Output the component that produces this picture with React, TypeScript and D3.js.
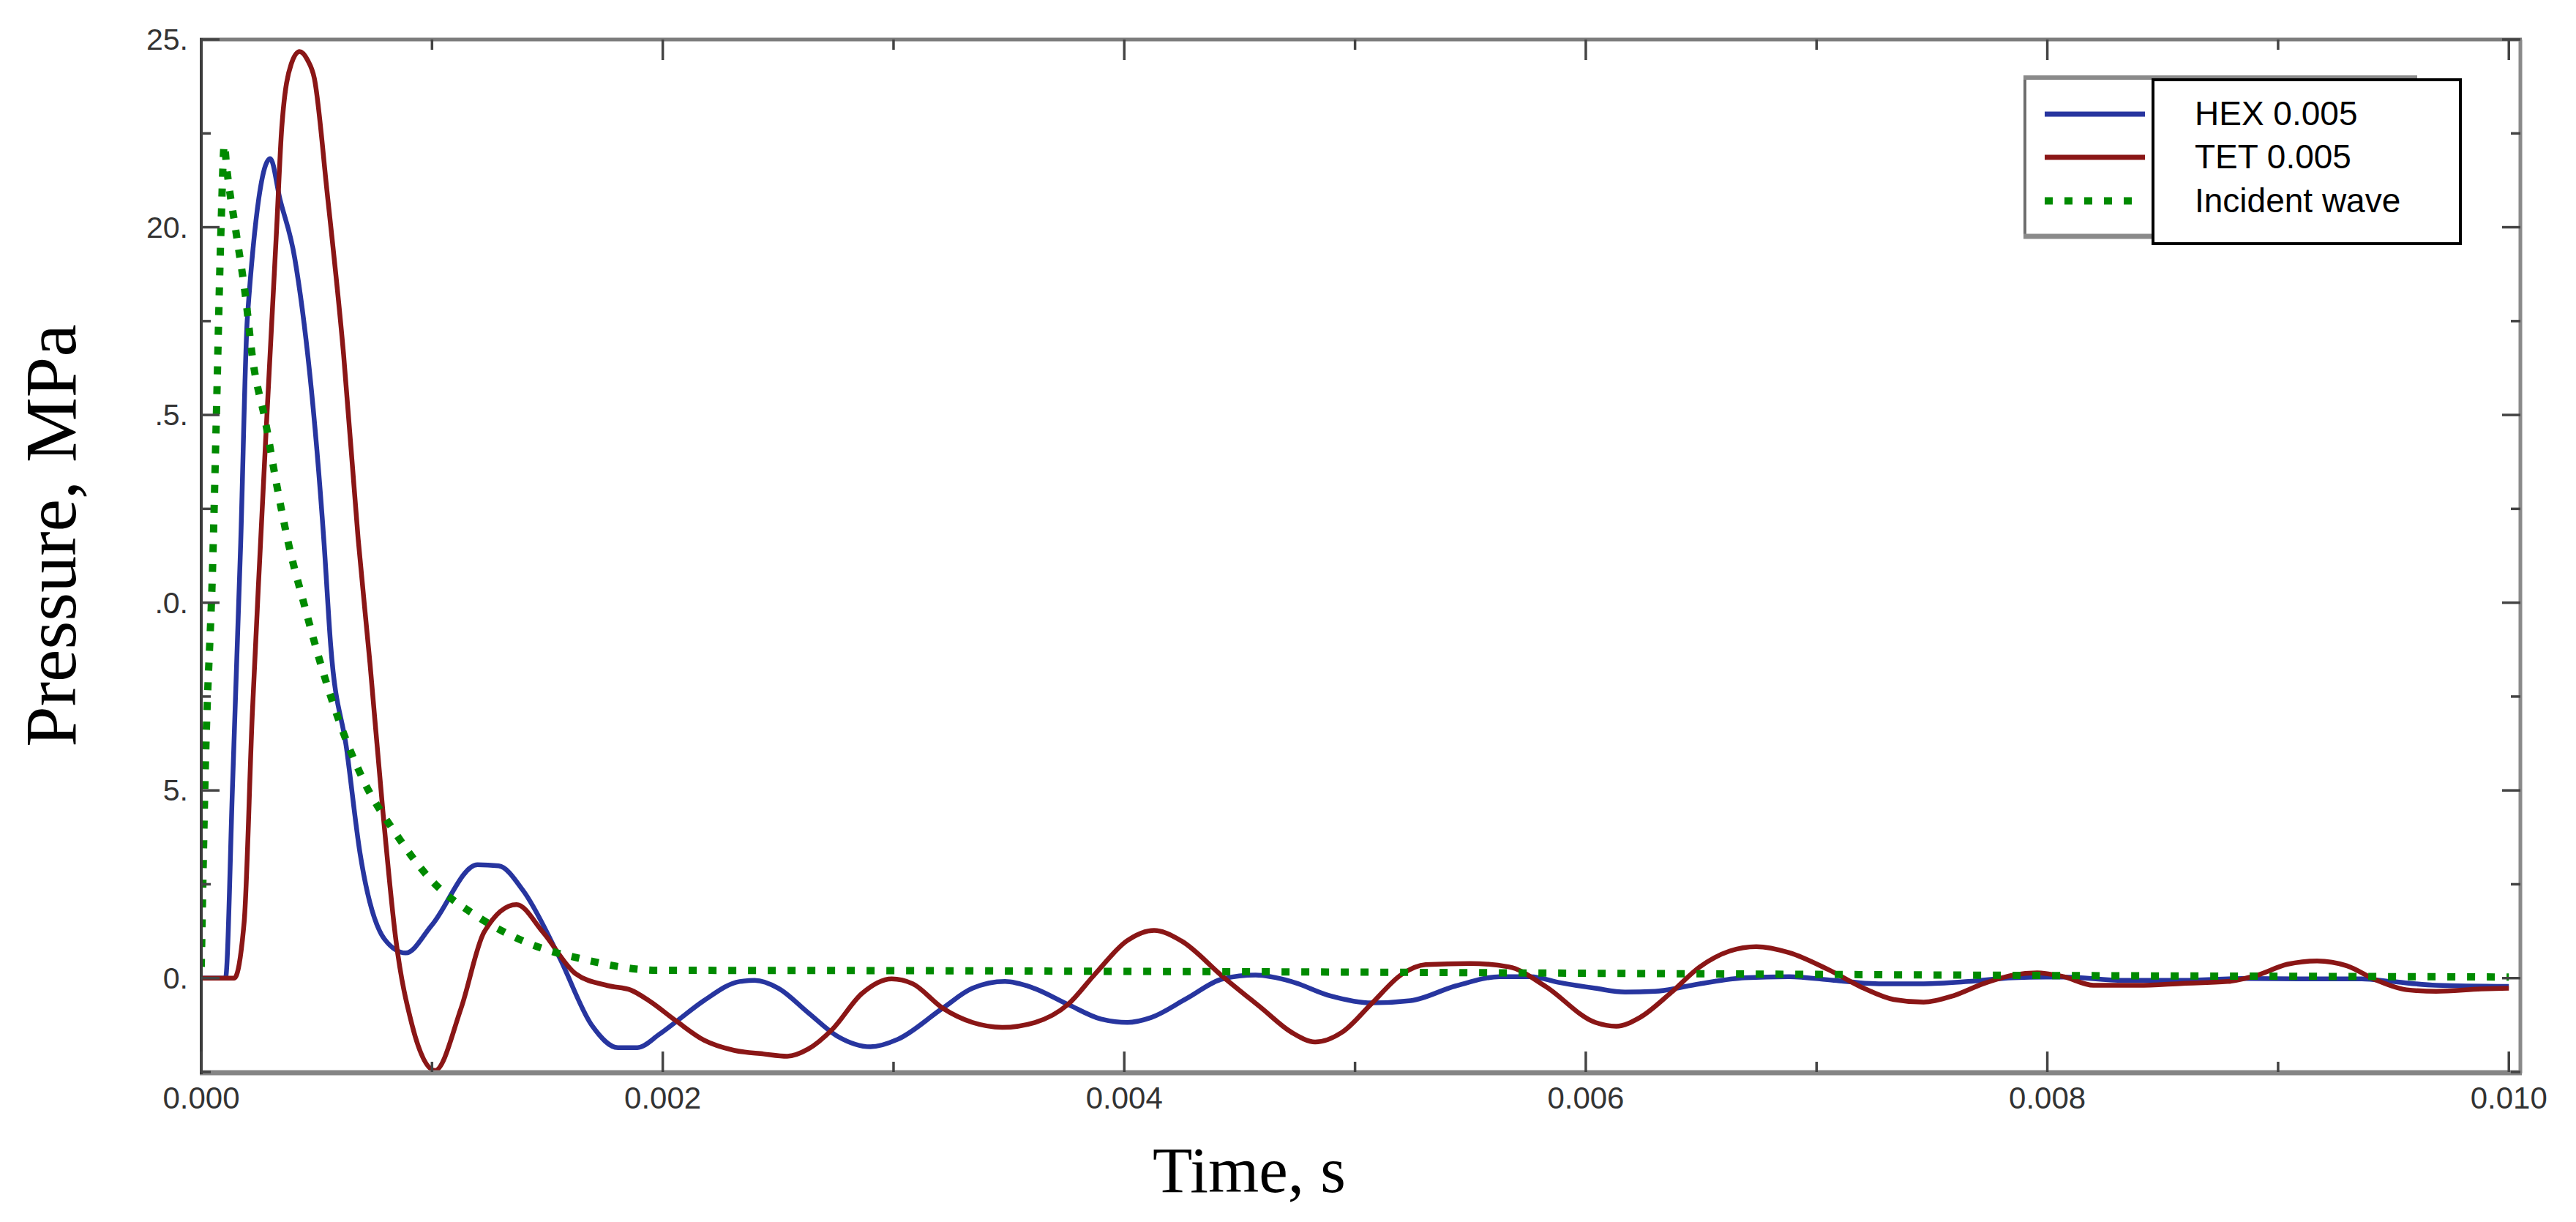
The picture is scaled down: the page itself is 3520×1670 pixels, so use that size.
import { curveMonotoneX, line, scaleLinear, select } from "d3";
import { useEffect, useRef } from "react";

// HEX 0.005 (blue)
const hexTime = [
  0, 0.000105, 0.000136, 0.000171, 0.0002, 0.000299, 0.000341, 0.000405, 0.000532, 0.000561, 0.00063,
  0.000688, 0.000794, 0.000886, 0.000999, 0.001197, 0.001289, 0.001395, 0.00155, 0.001693, 0.001806,
  0.00189, 0.001984, 0.00206, 0.002178, 0.002333, 0.002398, 0.002501, 0.00263, 0.00276, 0.0029, 0.003018,
  0.003213, 0.003342, 0.003483, 0.0036, 0.003756, 0.003899, 0.004013, 0.004116, 0.004271, 0.004427,
  0.004569, 0.004724, 0.004892, 0.005073, 0.005241, 0.005435, 0.005629, 0.005759, 0.005888, 0.006041,
  0.00617, 0.0063, 0.006494, 0.006688, 0.006881, 0.007075, 0.00727, 0.007464, 0.007658, 0.007851, 0.00807,
  0.00833, 0.008587, 0.008846, 0.009105, 0.009363, 0.009492, 0.009686, 0.01,
];
const hexPressure = [
  0, 0, 5.2, 11.6, 17.6, 21.83, 20.75, 19.18, 11.6, 8.86, 6.1, 3.33, 1.04, 0.67, 1.41, 3.02, 2.99, 2.33,
  0.58, -1.26, -1.85, -1.85, -1.5, -1.15, -0.6, -0.09, -0.06, -0.27, -0.92, -1.56, -1.83, -1.63, -0.8,
  -0.27, -0.09, -0.25, -0.7, -1.09, -1.18, -1.05, -0.54, -0.02, 0.08, -0.09, -0.47, -0.66, -0.6, -0.21,
  0.04, 0.04, -0.12, -0.27, -0.37, -0.35, -0.15, 0.01, 0.04, -0.06, -0.15, -0.15, -0.09, 0.01, 0.03,
  -0.06, -0.06, -0.01, -0.02, -0.02, -0.09, -0.19, -0.22,
];

// TET 0.005 (red)
const tetTime = [
  0, 0.000143, 0.000186, 0.000221, 0.000257, 0.000278, 0.000327, 0.000349, 0.00039, 0.000426, 0.000461,
  0.00049, 0.000546, 0.000617, 0.00068, 0.000731, 0.000787, 0.000843, 0.000914, 0.001013, 0.001126,
  0.001226, 0.001366, 0.00148, 0.001622, 0.001762, 0.001862, 0.00194, 0.00206, 0.002178, 0.002307,
  0.002437, 0.002539, 0.00263, 0.002734, 0.002863, 0.002992, 0.003083, 0.003213, 0.003342, 0.003471,
  0.003613, 0.003756, 0.003872, 0.004013, 0.004129, 0.004245, 0.004427, 0.004595, 0.004724, 0.004827,
  0.004944, 0.005073, 0.005202, 0.005306, 0.005499, 0.005667, 0.005823, 0.006041, 0.006132, 0.006234,
  0.006365, 0.006494, 0.006623, 0.006739, 0.006881, 0.00705, 0.007205, 0.007335, 0.007464, 0.007593,
  0.007722, 0.007851, 0.007956, 0.00807, 0.0082, 0.008393, 0.008587, 0.008781, 0.00891, 0.00904,
  0.009169, 0.009298, 0.009428, 0.009557, 0.009686, 0.00988, 0.01,
];
const tetPressure = [
  0, 0, 1.5, 7.0, 11.6, 14.2, 20.0, 22.66, 24.35, 24.68, 24.45, 23.97, 20.9, 16.6, 11.7, 8.4, 4.45, 1.04,
  -1.26, -2.46, -0.8, 1.23, 1.96, 1.23, 0.12, -0.2, -0.32, -0.6, -1.15, -1.65, -1.92, -2.02, -2.08,
  -1.89, -1.37, -0.41, -0.02, -0.15, -0.8, -1.18, -1.31, -1.18, -0.7, 0.1, 1.0, 1.27, 1.0, 0.04, -0.8,
  -1.44, -1.7, -1.44, -0.67, 0.1, 0.36, 0.39, 0.3, -0.21, -1.18, -1.28, -1.05, -0.41, 0.3, 0.72, 0.84,
  0.68, 0.23, -0.27, -0.57, -0.64, -0.47, -0.15, 0.08, 0.14, 0.04, -0.19, -0.19, -0.14, -0.09, 0.08,
  0.37, 0.46, 0.33, -0.06, -0.31, -0.35, -0.29, -0.27,
];

// Incident wave (green dotted)
const incidentTime = [
  0, 0.000016, 0.000051, 0.000065, 0.000086, 0.0001, 0.00011, 0.00015, 0.000193, 0.000221, 0.000278,
  0.000326, 0.000377, 0.000447, 0.000518, 0.000603, 0.000702, 0.000843, 0.000998, 0.001197, 0.00141,
  0.001664, 0.001975, 0.003, 0.004, 0.005, 0.006, 0.007, 0.008, 0.009, 0.01,
];
const incidentPressure = [
  0.3, 5.2, 11.35, 14.83, 20.05, 22.2, 21.6, 19.9, 18.1, 16.57, 14.83, 13.17, 11.6, 9.93, 8.36, 6.75,
  5.28, 3.85, 2.6, 1.64, 0.95, 0.49, 0.21, 0.2, 0.18, 0.16, 0.13, 0.1, 0.07, 0.05, 0.03,
];

const xDomain = [0, 0.01005];
const yDomain = [-2.5, 25];
const xTickValues = [0, 0.002, 0.004, 0.006, 0.008, 0.01];
const xTickLabels = ["0.000", "0.002", "0.004", "0.006", "0.008", "0.010"];
const xMinorValues = [0.001, 0.003, 0.005, 0.007, 0.009];
const yTickValues = [0, 5, 10, 15, 20, 25];
const yTickLabels = ["0.", "5.", ".0.", ".5.", "20.", "25."];
const yMinorValues = [-2.5, 2.5, 7.5, 12.5, 17.5, 22.5];
const legendLabels = ["HEX 0.005", "TET 0.005", "Incident wave"];

const W = 3520;
const H = 1670;
const plot = { left: 275, right: 3444, top: 54, bottom: 1465 };
const sansFont = "'Liberation Sans', Arial, sans-serif";
const serifFont = "'Liberation Serif', 'Times New Roman', serif";

const series = [
  { time: hexTime, values: hexPressure, color: "#27359f", width: 6.5, dash: null },
  { time: tetTime, values: tetPressure, color: "#8a1616", width: 6.5, dash: null },
  { time: incidentTime, values: incidentPressure, color: "#008a00", width: 10, dash: "11 16" },
];

export default function App() {
  const svgRef = useRef<SVGSVGElement | null>(null);

  useEffect(() => {
    if (!svgRef.current) return;
    const svg = select(svgRef.current);
    svg.selectAll("*").remove();

    const x = scaleLinear().domain(xDomain).range([plot.left, plot.right]);
    const y = scaleLinear().domain(yDomain).range([plot.bottom, plot.top]);

    svg.append("rect").attr("width", W).attr("height", H).attr("fill", "#fff");

    svg
      .append("clipPath")
      .attr("id", "plot-clip")
      .append("rect")
      .attr("x", plot.left)
      .attr("y", plot.top)
      .attr("width", plot.right - plot.left)
      .attr("height", plot.bottom - plot.top + 2);

    // curves
    const curves = svg.append("g").attr("clip-path", "url(#plot-clip)");
    series.forEach((s) => {
      const pts = s.time.map((t, i) => [t, s.values[i]] as [number, number]);
      const gen = line<[number, number]>()
        .x((d) => x(d[0]))
        .y((d) => y(d[1]))
        .curve(curveMonotoneX);
      curves
        .append("path")
        .attr("d", gen(pts))
        .attr("fill", "none")
        .attr("stroke", s.color)
        .attr("stroke-width", s.width)
        .attr("stroke-linejoin", "round")
        .attr("stroke-dasharray", s.dash ?? null);
    });

    // frame
    const frame = svg.append("g");
    frame
      .append("line")
      .attr("x1", plot.left - 2)
      .attr("x2", plot.right + 2)
      .attr("y1", plot.top)
      .attr("y2", plot.top)
      .attr("stroke", "#7c7c7c")
      .attr("stroke-width", 5);
    frame
      .append("line")
      .attr("x1", plot.right)
      .attr("x2", plot.right)
      .attr("y1", plot.top)
      .attr("y2", plot.bottom + 2)
      .attr("stroke", "#8a8a8a")
      .attr("stroke-width", 5);
    frame
      .append("line")
      .attr("x1", plot.left - 2)
      .attr("x2", plot.right + 2)
      .attr("y1", plot.bottom + 1)
      .attr("y2", plot.bottom + 1)
      .attr("stroke", "#858585")
      .attr("stroke-width", 7);
    frame
      .append("line")
      .attr("x1", plot.left)
      .attr("x2", plot.left)
      .attr("y1", plot.top - 2)
      .attr("y2", plot.bottom + 3)
      .attr("stroke", "#3c3c3c")
      .attr("stroke-width", 4);

    // ticks
    const ticks = svg.append("g").attr("stroke", "#444").attr("stroke-width", 3.5);
    const xTick = (vals: number[], len: number) => {
      vals.forEach((v) => {
        ticks
          .append("line")
          .attr("x1", x(v))
          .attr("x2", x(v))
          .attr("y1", plot.bottom)
          .attr("y2", plot.bottom - len);
        ticks
          .append("line")
          .attr("x1", x(v))
          .attr("x2", x(v))
          .attr("y1", plot.top)
          .attr("y2", plot.top + len);
      });
    };
    const yTick = (vals: number[], len: number) => {
      vals.forEach((v) => {
        ticks
          .append("line")
          .attr("x1", plot.left)
          .attr("x2", plot.left + len)
          .attr("y1", y(v))
          .attr("y2", y(v));
        ticks
          .append("line")
          .attr("x1", plot.right)
          .attr("x2", plot.right - len)
          .attr("y1", y(v))
          .attr("y2", y(v));
      });
    };
    xTick(xTickValues, 28);
    xTick(xMinorValues, 14);
    yTick(yTickValues, 25);
    yTick(yMinorValues, 13);

    // tick labels
    svg
      .append("g")
      .selectAll("text")
      .data(xTickValues)
      .join("text")
      .attr("x", (d) => x(d))
      .attr("y", 1515)
      .attr("text-anchor", "middle")
      .attr("font-family", sansFont)
      .attr("font-size", 42)
      .attr("fill", "#333")
      .text((_, i) => xTickLabels[i]);

    svg
      .append("g")
      .selectAll("text")
      .data(yTickValues)
      .join("text")
      .attr("x", 257)
      .attr("y", (d) => y(d) + 14)
      .attr("text-anchor", "end")
      .attr("font-family", sansFont)
      .attr("font-size", 41)
      .attr("fill", "#333")
      .text((_, i) => yTickLabels[i]);

    // axis titles
    svg
      .append("text")
      .attr("x", 1707)
      .attr("y", 1629)
      .attr("text-anchor", "middle")
      .attr("font-family", serifFont)
      .attr("font-size", 89)
      .attr("fill", "#000")
      .text("Time, s");

    svg
      .append("text")
      .attr("transform", `translate(103,732) rotate(-90)`)
      .attr("text-anchor", "middle")
      .attr("font-family", serifFont)
      .attr("font-size", 100)
      .attr("fill", "#000")
      .text("Pressure, MPa");

    // legend: back box with samples, front box with labels
    const legend = svg.append("g");
    legend
      .append("rect")
      .attr("x", 2767)
      .attr("y", 106)
      .attr("width", 534)
      .attr("height", 217)
      .attr("fill", "#fff")
      .attr("stroke", "#6e6e6e")
      .attr("stroke-width", 4);
    legend
      .append("line")
      .attr("x1", 2765)
      .attr("x2", 3303)
      .attr("y1", 323)
      .attr("y2", 323)
      .attr("stroke", "#8a8a8a")
      .attr("stroke-width", 7);
    legend
      .append("line")
      .attr("x1", 2765)
      .attr("x2", 3303)
      .attr("y1", 106)
      .attr("y2", 106)
      .attr("stroke", "#8a8a8a")
      .attr("stroke-width", 6);

    const rowY = [156, 215, 274.5];
    series.forEach((s, i) => {
      legend
        .append("line")
        .attr("x1", 2794)
        .attr("x2", s.dash ? 2925 : 2931)
        .attr("y1", rowY[i])
        .attr("y2", rowY[i])
        .attr("stroke", s.color)
        .attr("stroke-width", s.dash ? 10 : 7)
        .attr("stroke-dasharray", s.dash ?? null);
    });

    legend
      .append("rect")
      .attr("x", 2942)
      .attr("y", 109)
      .attr("width", 420)
      .attr("height", 224)
      .attr("fill", "#fff")
      .attr("stroke", "#000")
      .attr("stroke-width", 4);

    legend
      .selectAll("text")
      .data(legendLabels)
      .join("text")
      .attr("x", 2999)
      .attr("y", (_, i) => rowY[i] + 15)
      .attr("font-family", sansFont)
      .attr("font-size", 46)
      .attr("fill", "#000")
      .text((d) => d);
  }, []);

  return (
    <div style={{ position: "absolute", left: 0, top: 0 }}>
      <svg ref={svgRef} width={W} height={H} role="img" aria-label="Pressure vs time chart" />
    </div>
  );
}
